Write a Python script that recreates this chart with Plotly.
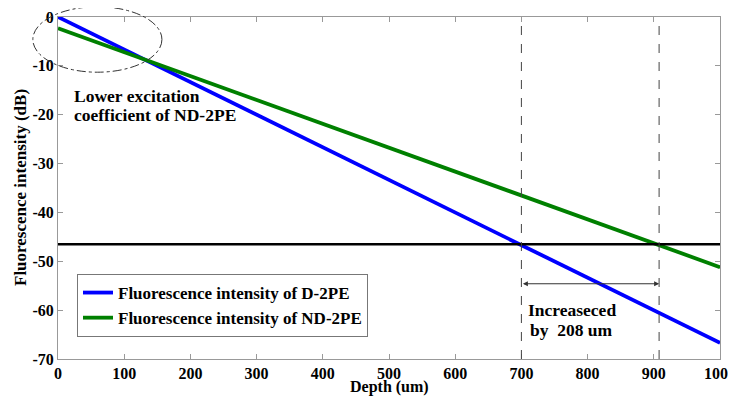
import plotly.graph_objects as go

depth = [0, 1000]
d2pe = [0.0, -66.7]
nd2pe = [-2.3, -51.2]
threshold = [-46.5, -46.5]
depth_d2pe_cut = 700
depth_nd2pe_cut = 908
x_ticks = list(range(0, 1001, 100))
y_ticks = list(range(-70, 1, 10))

XR = [0, 1000]
YR = [-70, 0]

def px(x):
    return (x - XR[0]) / (XR[1] - XR[0])

def py(y):
    return (y - YR[0]) / (YR[1] - YR[0])

font_main = "Times New Roman, Liberation Serif, DejaVu Serif, serif"

fig = go.Figure()
fig.add_trace(go.Scatter(x=depth, y=d2pe, mode="lines", line=dict(color="#0000ff", width=3.8),
                         name="Fluorescence intensity of D-2PE"))
fig.add_trace(go.Scatter(x=depth, y=nd2pe, mode="lines", line=dict(color="#008000", width=3.8),
                         name="Fluorescence intensity of ND-2PE"))
fig.add_trace(go.Scatter(x=depth, y=threshold, mode="lines", line=dict(color="black", width=2.5),
                         showlegend=False))

for xv in [depth_d2pe_cut, depth_nd2pe_cut]:
    fig.add_shape(type="line", x0=xv, x1=xv, y0=YR[0], y1=YR[1], xref="x", yref="y",
                  line=dict(color="#444", width=1, dash="dash"))

# ellipse around low-depth region
fig.add_shape(type="circle", xref="paper", yref="paper",
              x0=px(-38), x1=px(157), y0=py(-11.3), y1=py(2.1),
              line=dict(color="#333", width=1, dash="dashdot"))

bold = dict(family=font_main, size=17.5, color="black", weight="bold")

# double arrow
fig.add_annotation(x=depth_nd2pe_cut, y=-54.6, ax=depth_d2pe_cut, ay=-54.6, xref="x", yref="y",
                   axref="x", ayref="y", text="", showarrow=True, arrowhead=2, arrowside="end+start",
                   arrowsize=1, arrowwidth=1, arrowcolor="#333")
for txt, yv in [("Increaseced", -60.0), ("by  208 um", -64.1)]:
    fig.add_annotation(x=776, y=yv, xref="x", yref="y", text=txt,
                       showarrow=False, font=bold, align="center")
for txt, yv in [("Lower excitation", -16.2), ("coefficient of ND-2PE", -20.1)]:
    fig.add_annotation(x=21, y=yv, xref="x", yref="y", xanchor="left", text=txt,
                       showarrow=False, font=bold, align="left")

# axis titles
fig.add_annotation(x=0.5, y=-0.082, xref="paper", yref="paper", text="Depth (um)",
                   showarrow=False, font=dict(bold, size=16), xanchor="center", yanchor="middle")
fig.add_annotation(x=-0.0574, y=0.5, xref="paper", yref="paper", text="Fluorescence intensity (dB)",
                   showarrow=False, font=dict(bold, size=17), textangle=-90,
                   xanchor="center", yanchor="middle")

axis_common = dict(showline=True, linecolor="#999", linewidth=1, mirror="ticks", ticks="inside",
                   ticklen=5, tickcolor="#999", showgrid=False, zeroline=False, automargin=False,
                   ticklabeloverflow="allow", tickfont=dict(bold, size=16))

fig.update_xaxes(range=XR, tickvals=x_ticks, ticktext=[str(v) for v in x_ticks], **axis_common)
fig.update_yaxes(range=YR, tickvals=y_ticks, ticktext=[str(v) for v in y_ticks], **axis_common)

fig.update_layout(
    width=728, height=388,
    margin=dict(l=50, r=16, t=9, b=37),
    plot_bgcolor="white", paper_bgcolor="white",
    font=dict(family=font_main),
    legend=dict(x=0.0287, y=0.2485, xanchor="left", yanchor="top", bgcolor="white",
                bordercolor="#777", borderwidth=1, font=dict(bold, size=17),
                itemwidth=30, tracegroupgap=0),
)

fig.write_html("out.html")
